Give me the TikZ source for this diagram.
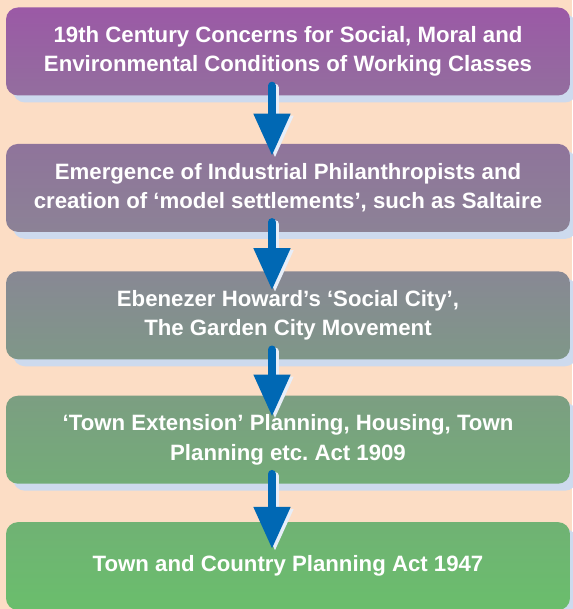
\documentclass[tikz,border=0pt]{standalone}
\usepackage{fontspec}
\setmainfont{Liberation Sans}
\frenchspacing
\usetikzlibrary{positioning,arrows.meta,shadows}
\definecolor{peach}{RGB}{252,221,197}
\definecolor{shadeblue}{RGB}{205,218,238}
\definecolor{flowblue}{RGB}{0,104,180}
\definecolor{flowshade}{RGB}{232,238,248}
\tikzset{
  stage/.style={rounded corners=12pt, minimum width=564pt, minimum height=88pt,
    align=center, text=white, font=\bfseries\fontsize{22.2}{29.5}\selectfont,
    drop shadow={shadow xshift=7pt, shadow yshift=-7pt, fill=shadeblue, opacity=1}},
  flow/.style={line width=8pt, line cap=round, draw=flowblue,
    -{Triangle[width=35pt,length=42pt]}},
}
\begin{document}
\begin{tikzpicture}[x=1pt, y=-1pt]
    \fill[peach] (0,0) rectangle (572,609);
    \useasboundingbox (0,0) rectangle (572,609);
    % stages
    \node[stage, top color={rgb,255:red,155;green,89;blue,166}, bottom color={rgb,255:red,147;green,110;blue,158}] (concerns) at (288,51.5)
        {19th Century Concerns for Social, Moral and\\Environmental Conditions of Working Classes};
    \node[stage, top color={rgb,255:red,143;green,116;blue,155}, bottom color={rgb,255:red,140;green,130;blue,150}] (philanthropy) [below=48pt of concerns]
        {Emergence of Industrial Philanthropists and\\creation of `model settlements', such as Saltaire};
    \node[stage, top color={rgb,255:red,136;green,136;blue,148}, bottom color={rgb,255:red,127;green,151;blue,136}] (gardencity) [below=39pt of philanthropy]
        {Ebenezer Howard's `Social City',\\The Garden City Movement};
    \node[stage, top color={rgb,255:red,124;green,158;blue,130}, bottom color={rgb,255:red,115;green,172;blue,120}] (extension) [below=36pt of gardencity]
        {`Town Extension' Planning, Housing, Town\\Planning etc. Act 1909};
    \node[stage, top color={rgb,255:red,112;green,178;blue,116}, bottom color={rgb,255:red,106;green,190;blue,108}] (act) [below=38pt of extension]
        {Town and Country Planning Act 1947};
    % arrows
    \foreach \from/\to/\tip in {concerns/philanthropy/12, philanthropy/gardencity/19, gardencity/extension/21, extension/act/27} {
        \draw[flow, draw=flowshade, transform canvas={shift={(3pt,-2pt)}}] ([xshift=-16pt, yshift=10pt]\from.south) -- ([xshift=-16pt, yshift=-\tip pt]\to.north);
        \draw[flow] ([xshift=-16pt, yshift=10pt]\from.south) -- ([xshift=-16pt, yshift=-\tip pt]\to.north);
    }
\end{tikzpicture}
\end{document}
